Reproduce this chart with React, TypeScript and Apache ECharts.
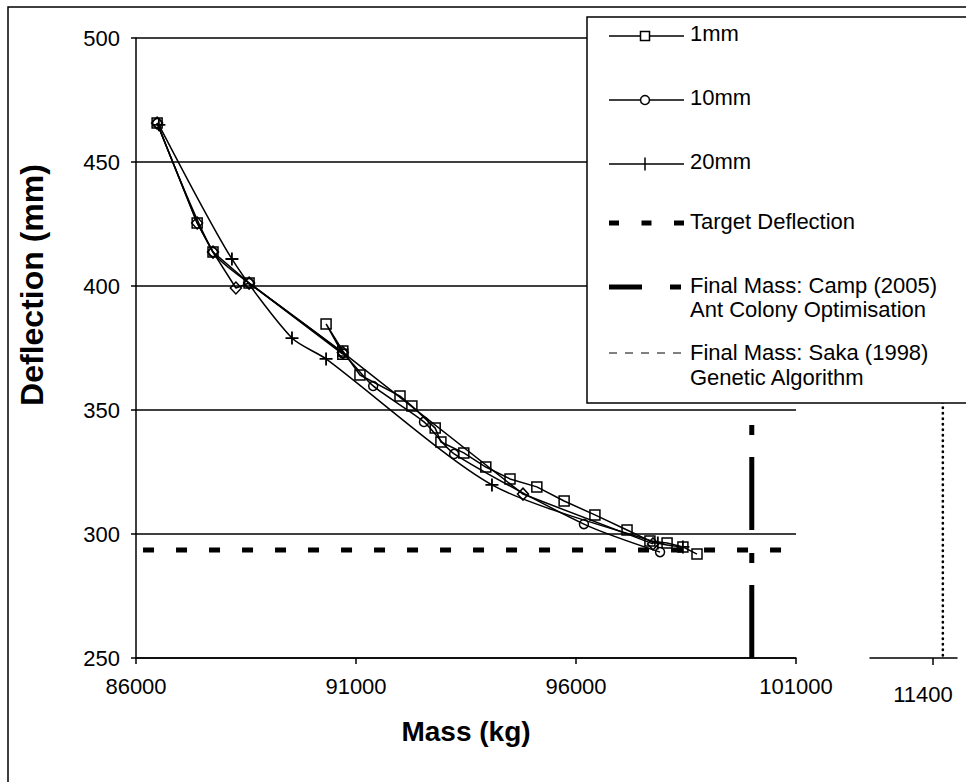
import React, { useEffect, useRef } from "react";
import * as echarts from "echarts";

// ---------- data ----------
const xMin = 86000;
const xMax = 101000;
const xInterval = 5000;
const yMin = 250;
const yMax = 500;
const yInterval = 50;

// Mass (kg), Deflection (mm)
const mm1: [number, number][] = [
  [86480, 465.7], [87390, 425.4], [87750, 413.7], [88570, 401.2], [90700, 372.5],
  [90320, 384.7], [90700, 373.8], [91090, 364.1], [92000, 355.6], [92270, 351.6],
  [92800, 342.7], [92930, 337.1], [93450, 332.7], [93950, 327.0], [94500, 322.2],
  [95110, 319.0], [95730, 313.3], [96430, 307.7], [97160, 301.6], [97680, 297.2],
  [98070, 296.4], [98430, 294.8], [98750, 291.9],
];
const mm10: [number, number][] = [
  [86480, 465.7], [87750, 413.7], [88570, 401.2], [90700, 372.8], [91390, 359.7],
  [92545, 345.2], [93230, 332.3], [96180, 304.0], [97910, 292.7],
];
const mm20: [number, number][] = [
  [86520, 465.0], [88180, 410.9], [89545, 379.0], [90320, 370.6], [94090, 319.8],
  [97860, 296.4], [98430, 294.8],
];
// unlabelled run drawn with diamond markers
const diamondRun: [number, number][] = [
  [86480, 465.7], [87390, 425.4], [87750, 413.7], [88270, 399.2], [88570, 401.2],
  [90700, 373.2], [94795, 316.1], [97750, 296.0],
];
const targetDeflection = 293.5;
const targetSpan = [86160, 101200];
const campMass = 99995;
const sakaMass = 114950;
const sakaSpan = [251, 480];

// right-hand (second) mass axis
const x2Min = 108000;
const x2Max = 116300;
const x2Tick = 114000;
const x2TickLabel = "11400";
const x2DashedSpan = [102788, 107035];

const legendItems = ["1mm", "10mm", "20mm", "Target Deflection"];
const campLabel = ["Final Mass: Camp (2005)", "Ant Colony Optimisation"];
const sakaLabel = ["Final Mass: Saka (1998)", "Genetic Algorithm"];

const FONT = "'Liberation Sans', Arial, sans-serif";

export default function App() {
  const ref = useRef<HTMLDivElement>(null);
  useEffect(() => {
    if (!ref.current) return;
    const chart = echarts.init(ref.current, undefined, { renderer: "svg" });
    const black = "#000";
    const lineBase = { color: black, width: 1.5 };
    const hollow = { color: "rgba(255,255,255,0)", borderColor: black, borderWidth: 1.5 };
    const txt = (x: number, y: number, text: string) => ({
      type: "text",
      z: 101,
      x,
      y,
      style: { text, fontSize: 22, fontFamily: FONT, fill: black, verticalAlign: "middle", align: "left" },
    });
    const ln = (x1: number, y1: number, x2: number, y2: number, w: number, dash?: number[]) => ({
      type: "line",
      z: 101,
      shape: { x1, y1, x2, y2 },
      style: { stroke: black, lineWidth: w, lineDash: dash },
    });

    const option: any = {
      animation: false,
      backgroundColor: "#fff",
      textStyle: { fontFamily: FONT },
      grid: [
        { left: 136, right: 170, top: 38, bottom: 124 },
        { left: 870, right: 9, top: 38, bottom: 124 },
      ],
      xAxis: [
        {
          type: "value",
          gridIndex: 0,
          min: xMin,
          max: xMax,
          interval: xInterval,
          name: "Mass (kg)",
          nameLocation: "middle",
          nameGap: 59,
          nameTextStyle: { fontSize: 28, fontWeight: "bold", color: black, fontFamily: FONT },
          axisLine: { show: true, lineStyle: { color: black, width: 1.5 } },
          axisTick: { show: true, length: 6, lineStyle: { color: black, width: 1.5 } },
          axisLabel: { fontSize: 22, color: black, margin: 17, fontFamily: FONT, formatter: (v: number) => String(v) },
          splitLine: { show: false },
        },
        {
          type: "value",
          gridIndex: 1,
          min: x2Min,
          max: x2Max,
          axisLine: { show: true, lineStyle: { color: black, width: 1.5 } },
          axisTick: { show: true, customValues: [x2Tick], length: 7, lineStyle: { color: black, width: 1.5 } },
          axisLabel: {
            customValues: [x2Tick],
            formatter: () => x2TickLabel,
            fontSize: 22,
            color: black,
            margin: 25,
            padding: [0, 20, 0, 0],
            fontFamily: FONT,
          },
          splitLine: { show: false },
        },
      ],
      yAxis: [
        {
          type: "value",
          gridIndex: 0,
          min: yMin,
          max: yMax,
          interval: yInterval,
          name: "Deflection (mm)",
          nameLocation: "middle",
          nameGap: 88,
          nameTextStyle: { fontSize: 32, fontWeight: "bold", color: black, fontFamily: FONT, padding: [0, 0, 0, 126] },
          axisLine: { show: true, lineStyle: { color: black, width: 1.5 } },
          axisTick: { show: true, length: 5, lineStyle: { color: black, width: 1.5 } },
          axisLabel: { fontSize: 22, color: black, margin: 16, fontFamily: FONT, formatter: (v: number) => String(v) },
          splitLine: { show: true, lineStyle: { color: black, width: 1.5 } },
        },
        { type: "value", gridIndex: 1, min: yMin, max: yMax, show: false },
      ],
      series: [
        {
          name: "1mm",
          type: "line",
          data: mm1,
          symbol: "rect",
          symbolSize: 10,
          lineStyle: lineBase,
          itemStyle: hollow,
        },
        {
          name: "10mm",
          type: "line",
          data: mm10,
          symbol: "circle",
          symbolSize: 9,
          smooth: 0.25,
          lineStyle: lineBase,
          itemStyle: hollow,
        },
        {
          name: "20mm",
          type: "line",
          data: mm20,
          symbol: "path://M4.3,0H5.7V10H4.3ZM0,4.3H10V5.7H0Z",
          symbolSize: 13,
          smooth: 0.25,
          lineStyle: lineBase,
          itemStyle: { color: black },
        },
        {
          name: "run",
          type: "line",
          data: diamondRun,
          symbol: "diamond",
          symbolSize: [11, 12],
          lineStyle: lineBase,
          itemStyle: hollow,
        },
        {
          name: "Target Deflection",
          type: "line",
          data: [
            [targetSpan[0], targetDeflection],
            [targetSpan[1], targetDeflection],
          ],
          symbol: "none",
          clip: false,
          lineStyle: { color: black, width: 5, type: [11, 22] },
        },
        {
          name: "Final Mass: Camp (2005)",
          type: "line",
          data: [
            [campMass, yMin],
            [campMass, yMax],
          ],
          symbol: "none",
          lineStyle: { color: black, width: 5, type: [73, 22, 10, 23] },
        },
        {
          name: "Final Mass: Saka (1998)",
          type: "line",
          xAxisIndex: 1,
          yAxisIndex: 1,
          data: [
            [sakaMass, sakaSpan[0]],
            [sakaMass, sakaSpan[1]],
          ],
          symbol: "none",
          lineStyle: { color: black, width: 2.6, type: [0.5, 5], cap: "round" },
        },
        {
          name: "axis-break",
          type: "line",
          xAxisIndex: 1,
          yAxisIndex: 1,
          clip: false,
          silent: true,
          data: [
            [x2DashedSpan[0], yMin],
            [x2DashedSpan[1], yMin],
          ],
          symbol: "none",
          lineStyle: { color: black, width: 1, type: [14, 12] },
        },
      ],
      graphic: [
        {
          type: "rect",
          z: 0,
          silent: true,
          shape: { x: 8, y: 7, width: 1000, height: 1000 },
          style: { fill: "none", stroke: black, lineWidth: 1.5 },
        },
        {
          type: "rect",
          z: 100,
          shape: { x: 587, y: 17, width: 420, height: 386 },
          style: { fill: "#fff", stroke: black, lineWidth: 1.5 },
        },
        // 1mm
        ln(609, 36, 684, 36, 1.5),
        {
          type: "rect",
          z: 102,
          shape: { x: 640.5, y: 31.5, width: 9, height: 9 },
          style: { fill: "#fff", stroke: black, lineWidth: 1.5 },
        },
        txt(690, 33, legendItems[0]),
        // 10mm
        ln(609, 100, 684, 100, 1.5),
        {
          type: "circle",
          z: 102,
          shape: { cx: 645, cy: 100, r: 4.5 },
          style: { fill: "#fff", stroke: black, lineWidth: 1.5 },
        },
        txt(690, 97, legendItems[1]),
        // 20mm
        ln(609, 164, 684, 164, 1.5),
        ln(645, 157.5, 645, 170.5, 1.5),
        txt(690, 161, legendItems[2]),
        // target
        ln(609, 223, 684, 223, 5, [10, 22.5]),
        txt(690, 221, legendItems[3]),
        // camp
        ln(609, 287, 642, 287, 5),
        ln(670, 287, 681, 287, 5),
        txt(690, 285, campLabel[0]),
        txt(690, 309, campLabel[1]),
        // saka
        ln(609, 353, 681, 353, 1, [8, 8]),
        txt(690, 352, sakaLabel[0]),
        txt(690, 377, sakaLabel[1]),
      ],
    };
    chart.setOption(option);
    return () => chart.dispose();
  }, []);
  return (
    <div
      ref={ref}
      style={{ position: "fixed", left: 0, top: 0, width: 966, height: 782, background: "#fff" }}
    />
  );
}
